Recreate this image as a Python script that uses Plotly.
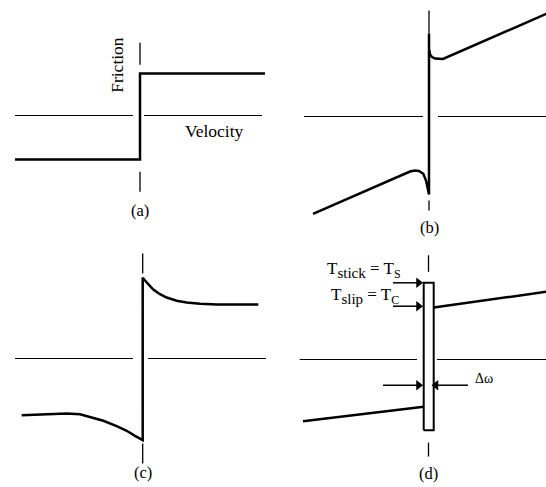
import plotly.graph_objects as go

# ---- data (velocity v, friction F) ----
# (a) Coulomb friction
a_v = [-1.25, 0.0, 0.0, 1.25]
a_f = [-0.44, -0.44, 0.42, 0.42]

# (b) Coulomb + viscous + Stribeck
b_v = [-1.16, -0.29, -0.19, -0.14, -0.10, -0.057, -0.03, -0.017, -0.007, 0.0,
       0.0, 0.0, 0.01, 0.03, 0.06, 0.10, 0.14, 1.173]
b_f = [-0.973, -0.60, -0.55, -0.54, -0.545, -0.573, -0.64, -0.70, -0.773, -0.78,
       0.83, 0.68, 0.62, 0.595, 0.58, 0.575, 0.576, 1.027]

# (c) exponential decay
c_v = [-1.21, -0.994, -0.76, -0.627, -0.527, -0.394, -0.26, -0.16, -0.077, -0.01, 0.0,
       0.0, 0.006, 0.056, 0.106, 0.173, 0.24, 0.34, 0.44, 0.573, 0.74, 1.156]
c_f = [-0.567, -0.557, -0.55, -0.557, -0.583, -0.623, -0.677, -0.723, -0.773, -0.81, -0.817,
       0.80, 0.80, 0.743, 0.69, 0.643, 0.61, 0.577, 0.56, 0.547, 0.54, 0.54]

# (d) Karnopp model
d_up_v = [0.052, 1.178]
d_up_f = [0.52, 0.677]
d_lo_v = [-1.255, -0.048]
d_lo_f = [-0.617, -0.473]
d_band_v = [-0.048, 0.052]      # +/- delta omega band
d_band_f = [-0.707, 0.767]      # stick band bottom / top (T_s)
d_tslip = 0.533                 # T_c level at arrow
d_dw = -0.257                   # level of the delta omega arrows

# axis segments per panel: horizontal (v) and vertical dashes (F)
axis_h = {
    "a": [-1.25, -0.07, None, 0.04, 1.22],
    "b": [-1.25, -0.06, None, 0.09, 1.17],
    "c": [-1.277, -0.097, None, 0.053, 1.233],
    "d": [-1.288, -0.115, None, 0.085, 1.175],
}
axis_v = {
    "a": [0.727, 0.507, None, -0.563, -0.763],
    "b": [1.06, 0.83, None, -0.84, -0.94],
    "c": [1.05, 0.85, None, -0.85, -1.05],
    "d": [1.043, 0.877, None, -0.83, -0.97],
}
labels = {"a": "(a)", "b": "(b)", "c": "(c)", "d": "(d)"}
label_f = {"a": -0.953, "b": -1.11, "c": -1.14, "d": -1.14}

# ---- layout helpers ----
W, H = 546, 487
S = 100.0  # px per unit
panels = {
    # name: (box left, top, right, bottom in px), origin px, axis suffix
    "a": ((0, 0, 273, 243), (140, 115.5), ""),
    "b": ((273, 0, 546, 243), (429, 116.5), "2"),
    "c": ((0, 243, 273, 487), (142.7, 358.5), "3"),
    "d": ((273, 243, 546, 487), (428.5, 359.5), "4"),
}

FONT = "Liberation Serif, Times New Roman, serif"
fig = go.Figure()
layout = dict(width=W, height=H, margin=dict(l=0, r=0, t=0, b=0),
              paper_bgcolor="white", plot_bgcolor="white", showlegend=False)
ann = []

for key, (box, org, sfx) in panels.items():
    l, t, r, b = box
    ox, oy = org
    layout["xaxis" + sfx] = dict(domain=[l / W, r / W], range=[(l - ox) / S, (r - ox) / S],
                                 visible=False, fixedrange=True, anchor="y" + sfx)
    layout["yaxis" + sfx] = dict(domain=[1 - b / H, 1 - t / H], range=[(oy - b) / S, (oy - t) / S],
                                 visible=False, fixedrange=True, anchor="x" + sfx)
    xr, yr = "x" + sfx, "y" + sfx
    h = axis_h[key]
    fig.add_trace(go.Scatter(x=h, y=[0 if v is not None else None for v in h], mode="lines",
                             line=dict(color="black", width=1), xaxis=xr, yaxis=yr))
    vv = axis_v[key]
    fig.add_trace(go.Scatter(x=[0 if v is not None else None for v in vv], y=vv, mode="lines",
                             line=dict(color="black", width=1.3), xaxis=xr, yaxis=yr))
    ann.append(dict(x=0, y=label_f[key], xref=xr, yref=yr, text=labels[key], showarrow=False,
                    font=dict(family=FONT, size=16.5, color="black")))

line = dict(color="black", width=2.5)
fig.add_trace(go.Scatter(x=a_v, y=a_f, mode="lines", line=line, xaxis="x", yaxis="y"))
fig.add_trace(go.Scatter(x=b_v, y=b_f, mode="lines", line=line, xaxis="x2", yaxis="y2"))
fig.add_trace(go.Scatter(x=c_v, y=c_f, mode="lines", line=line, xaxis="x3", yaxis="y3"))
fig.add_trace(go.Scatter(x=d_up_v, y=d_up_f, mode="lines", line=line, xaxis="x4", yaxis="y4"))
fig.add_trace(go.Scatter(x=d_lo_v, y=d_lo_f, mode="lines", line=line, xaxis="x4", yaxis="y4"))
bx = [d_band_v[0], d_band_v[1], d_band_v[1], d_band_v[0], d_band_v[0]]
by = [d_band_f[0], d_band_f[0], d_band_f[1], d_band_f[1], d_band_f[0]]
fig.add_trace(go.Scatter(x=bx, y=by, mode="lines", fill="toself", fillcolor="white",
                         line=dict(color="black", width=2), xaxis="x4", yaxis="y4"))

# arrows in panel (d): tail -> head, head drawn as a triangle marker
arrows = [
    ([-0.355, -0.10], [d_band_f[1], d_band_f[1]]),
    ([-0.355, -0.10], [d_tslip, d_tslip]),
    ([-0.455, -0.10], [d_dw, d_dw]),
    ([0.395, 0.075], [d_dw, d_dw]),
]
for xs, ys in arrows:
    fig.add_trace(go.Scatter(x=xs, y=ys, mode="lines", line=dict(color="black", width=1.5),
                             xaxis="x4", yaxis="y4"))
    fig.add_trace(go.Scatter(x=[xs[1]], y=[ys[1]], mode="markers", xaxis="x4", yaxis="y4",
                             marker=dict(symbol="triangle-right" if xs[1] > xs[0] else "triangle-left",
                                         size=9, color="black")))

# panel (a) axis names
ann.append(dict(x=-0.23, y=0.507, xref="x", yref="y", text="Friction", textangle=-90,
                showarrow=False, font=dict(family=FONT, size=17.5, color="black")))
ann.append(dict(x=0.74, y=-0.153, xref="x", yref="y", text="Velocity",
                showarrow=False, font=dict(family=FONT, size=17.5, color="black")))

# panel (d) labels
ann.append(dict(x=-0.645, y=0.90, xref="x4", yref="y4",
                text="T<sub><span style='font-size:15px'>stick</span></sub> = T<sub>S</sub>",
                showarrow=False, font=dict(family=FONT, size=17, color="black")))
ann.append(dict(x=-0.635, y=0.635, xref="x4", yref="y4",
                text="T<sub><span style='font-size:15px'>slip</span></sub> = T<sub>C</sub>",
                showarrow=False, font=dict(family=FONT, size=17, color="black")))
ann.append(dict(x=0.555, y=-0.19, xref="x4", yref="y4", text="Δω",
                showarrow=False, font=dict(family=FONT, size=14, color="black")))

layout["annotations"] = ann
fig.update_layout(**layout)
fig.write_html("out.html", config={"displayModeBar": False},
               post_script="document.body.style.margin='0';")
